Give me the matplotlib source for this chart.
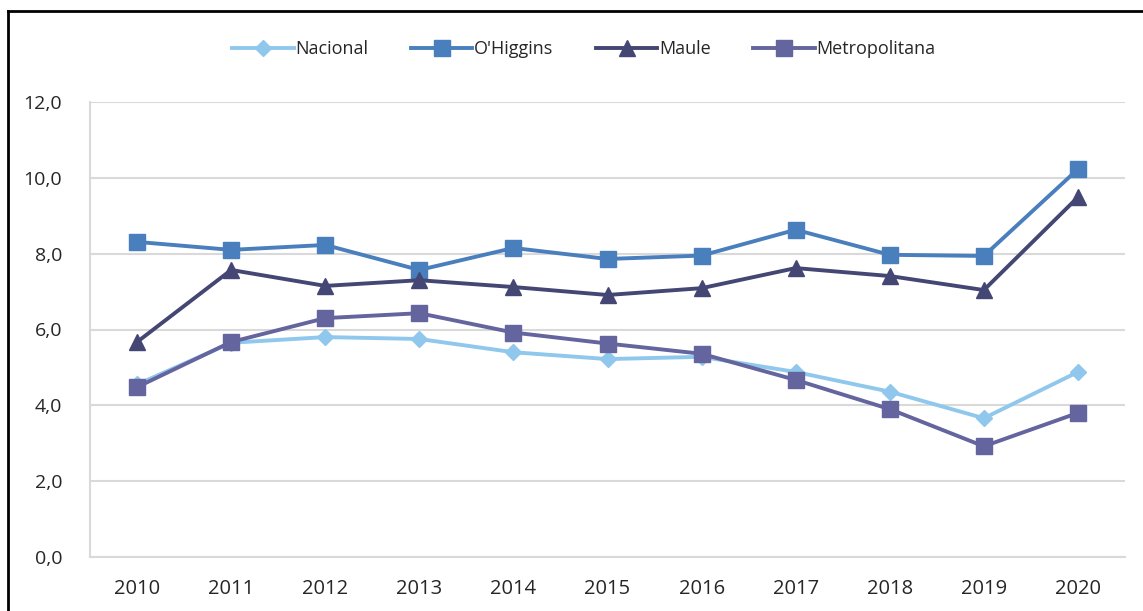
import matplotlib
matplotlib.use("Agg")
import matplotlib.pyplot as plt
from matplotlib.lines import Line2D

years = ["2010", "2011", "2012", "2013", "2014", "2015", "2016", "2017", "2018", "2019", "2020"]
nacional = [4.55, 5.65, 5.80, 5.75, 5.40, 5.22, 5.28, 4.88, 4.36, 3.66, 4.88]
ohiggins = [8.31, 8.10, 8.23, 7.57, 8.15, 7.86, 7.95, 8.63, 7.97, 7.94, 10.23]
maule = [5.67, 7.57, 7.15, 7.30, 7.12, 6.91, 7.09, 7.62, 7.41, 7.04, 9.49]
metropolitana = [4.48, 5.67, 6.30, 6.43, 5.92, 5.63, 5.36, 4.67, 3.90, 2.92, 3.80]

series = [
    ("Nacional", nacional, "#8FC8EC", "D", 8),
    ("O'Higgins", ohiggins, "#4A7FBD", "s", 11),
    ("Maule", maule, "#444673", "^", 11),
    ("Metropolitana", metropolitana, "#64649E", "s", 11),
]

plt.rcParams['font.family'] = ['Open Sans', 'DejaVu Sans']

fig = plt.figure(figsize=(11.43, 6.11), dpi=100)
ax = fig.add_axes([90/1143, 1-557/611, (1125-90)/1143, (557-102)/611])

x = list(range(len(years)))
for name, vals, color, marker, ms in series:
    ax.plot(x, vals, color=color, lw=2.8, marker=marker, markersize=ms,
            markeredgecolor=color, label=name, zorder=3)

ax.set_xlim(-0.5, len(years) - 0.5)
ax.set_ylim(0, 12)
ax.set_yticks([0, 2, 4, 6, 8, 10, 12])
ax.set_yticklabels([f"{v:.1f}".replace(".", ",") for v in [0, 2, 4, 6, 8, 10, 12]])
ax.set_xticks(x)
ax.set_xticklabels(years)
ax.tick_params(axis='both', length=0, labelsize=14, colors="#262626")
ax.tick_params(axis='x', pad=16, labelsize=14.5)
ax.tick_params(axis='y', pad=20)
ax.grid(axis='y', color="#D9D9D9", lw=1.5)
ax.set_axisbelow(True)
for s in ['top', 'right']:
    ax.spines[s].set_visible(False)
ax.spines['left'].set_color("#D9D9D9")
ax.spines['left'].set_linewidth(1.5)
ax.spines['bottom'].set_color("#D9D9D9")
ax.spines['bottom'].set_linewidth(1.5)

fig.legend(loc='center', bbox_to_anchor=(584/1143, 1-49/611), ncol=4, frameon=False,
           fontsize=13, handlelength=3.4, handletextpad=0.1, columnspacing=2.35,
           labelcolor="#262626")

# outer border (top and left)
fig.add_artist(Line2D([8/1143, 1], [1-11/611, 1-11/611], color="black", lw=2, transform=fig.transFigure))
fig.add_artist(Line2D([8/1143, 8/1143], [0, 1-11/611], color="black", lw=2, transform=fig.transFigure))

fig.savefig("out.png", dpi=100)
